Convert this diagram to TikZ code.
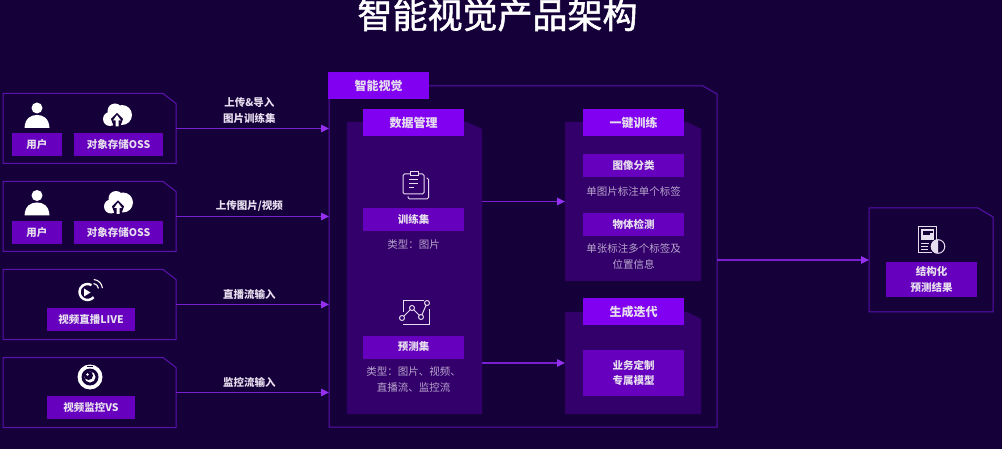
\documentclass[tikz,border=0pt]{standalone}
\usepackage{fontspec}
\setmainfont{Noto Sans CJK SC}
\newfontfamily\titlefont[FakeBold=1.5]{Noto Sans CJK SC}
\usetikzlibrary{positioning, arrows.meta}

\definecolor{bgcol}{HTML}{15003A}
\definecolor{framecol}{HTML}{5A12AE}
\definecolor{panelcol}{HTML}{33006B}
\definecolor{headcol}{HTML}{8200F2}
\definecolor{labelcol}{HTML}{6600BE}
\definecolor{flowcol}{HTML}{7A1FD0}
\definecolor{tipcol}{HTML}{9430F0}
\definecolor{textcol}{HTML}{E6DEEE}
\definecolor{notecol}{HTML}{B7A6CC}

\newcommand{\cutshape}[4]{\path[#1] (#2.north west) -- ([xshift=-#3pt]#2.north east)
  -- ([yshift=-#4pt]#2.north east) -- (#2.south east) -- (#2.south west) -- cycle;}

\tikzset{
  area/.style={inner sep=0pt, outer sep=0pt},
  framebox/.style={draw=framecol, line width=1pt},
  panelbox/.style={fill=panelcol},
  tag/.style={area, fill=labelcol, text=textcol, align=center, font=\fontsize{10.5}{15.5}\selectfont\bfseries},
  head/.style={area, fill=headcol, text=textcol, minimum width=101pt, minimum height=27pt, font=\fontsize{12}{14}\selectfont\bfseries},
  note/.style={inner sep=0pt, text=notecol, align=center, font=\fontsize{10.5}{15.5}\selectfont},
  flow/.style={-{Stealth[length=8pt, width=7.5pt, inset=0pt, color=tipcol]}, draw=flowcol, line width=1.2pt},
  flowtext/.style={inner sep=0pt, text=textcol, align=center, font=\fontsize{10.5}{16}\selectfont\bfseries},
  usericon/.pic={
    \fill[white] (0,-7) circle (5.5);
    \fill[white] (-12.5,13) .. controls (-12,3) and (-6,0) .. (0,0) .. controls (6,0) and (12,3) .. (12.5,13) -- cycle;
  },
  cloudicon/.pic={
    \fill[white] (5,0) circle (10) (-7,4) circle (7) (-2,-4) circle (7.5) (0,4) circle (6);
    \fill[bgcol] (0,-2) -- (-6,4) -- (-3,12) -- (3,12) -- (6,4) -- cycle;
    \fill[white] (0,0) -- (-4,5.5) -- (-1.5,5.5) -- (-1.5,11.5) -- (1.5,11.5) -- (1.5,5.5) -- (4,5.5) -- cycle;
  }
}

\begin{document}
\begin{tikzpicture}[x=1pt, y=-1pt, node distance=88pt]
  \useasboundingbox (0,0) rectangle (1002,449);
  \fill[bgcol] (0,0) rectangle (1002,449);

  % Titulo
  \node[text=white, font=\fontsize{35}{40}\selectfont\titlefont] (title) at (497.5,15) {智能视觉产品架构};

  % Cajas de entrada
  \node[area, minimum width=173pt, minimum height=70pt] (in1) at (89.5,128.5) {};
  \node[area, minimum width=173pt, minimum height=70pt, below of=in1] (in2) {};
  \node[area, minimum width=173pt, minimum height=70pt, below of=in2] (in3) {};
  \node[area, minimum width=173pt, minimum height=70pt, below of=in3] (in4) {};
  \cutshape{framebox}{in1}{13}{10}
  \cutshape{framebox}{in2}{13}{10}
  \cutshape{framebox}{in3}{13}{10}
  \cutshape{framebox}{in4}{13}{10}

  % Caja principal y paneles
  \node[area, minimum width=388pt, minimum height=341pt] (main) at (523,256.5) {};
  \node[area, minimum width=135pt, minimum height=292pt] (data) at (414.5,268) {};
  \node[area, minimum width=136pt, minimum height=159pt] (train) at (633,201.5) {};
  \node[area, minimum width=136pt, minimum height=102pt] (gen) at (633,363) {};
  \node[area, minimum width=124pt, minimum height=104pt] (result) at (931,260) {};
  \cutshape{framebox}{main}{14}{8}
  \cutshape{framebox}{result}{15}{9}
  \cutshape{panelbox}{data}{15}{7}
  \cutshape{panelbox}{train}{14}{7}
  \cutshape{panelbox}{gen}{14}{7}

  % Etiquetas de entrada
  \node[tag, minimum width=50pt, minimum height=23pt] (user1) at (37,144.5) {用户};
  \node[tag, minimum width=89pt, minimum height=23pt] (oss1) at (118.5,144.5) {对象存储OSS};
  \node[tag, minimum width=50pt, minimum height=23pt, below of=user1] (user2) {用户};
  \node[tag, minimum width=89pt, minimum height=23pt, below of=oss1] (oss2) {对象存储OSS};
  \node[tag, minimum width=88pt, minimum height=23pt] (live) at (91,319.5) {视频直播LIVE};
  \node[tag, minimum width=88pt, minimum height=23pt, below of=live] (vs) {视频监控VS};

  % Cabeceras
  \node[head] (mainhead) at (378.5,85.5) {智能视觉};
  \node[head] (datahead) at (413.5,122.5) {数据管理};
  \node[head] (trainhead) at (633.5,123) {一键训练};
  \node[head] (genhead) at (633.5,311.5) {生成迭代};

  % Contenido de los paneles
  \node[tag, minimum width=101pt, minimum height=23pt] (trainset) at (413.5,219.5) {训练集};
  \node[note] (trainnote) at (413.5,244.5) {类型：图片};
  \node[tag, minimum width=101pt, minimum height=23pt] (predset) at (413.5,347) {预测集};
  \node[note, below=8pt of predset] (prednote) {类型：图片、视频、\\直播流、监控流};
  \node[tag, minimum width=101pt, minimum height=23pt] (classify) at (633.5,166) {图像分类};
  \node[note] (classnote) at (633.5,191.5) {单图片标注单个标签};
  \node[tag, minimum width=101pt, minimum height=23pt] (detect) at (633.5,224.5) {物体检测};
  \node[note, below=7.5pt of detect] (detnote) {单张标注多个标签及\\位置信息};
  \node[tag, minimum width=101pt, minimum height=46pt] (model) at (633.5,373) {业务定制\\专属模型};
  \node[tag, minimum width=91pt, minimum height=35pt] (output) at (931.5,279.5) {结构化\\预测结果};

  % Conectores
  \draw[flow] (in1.east) -- node[flowtext, pos=0.48, above=4.5pt] (flow1) {上传\&导入\\图片训练集} (in1.east -| main.west);
  \draw[flow] (in2.east) -- node[flowtext, pos=0.48, above=4.5pt] (flow2) {上传图片/视频} (in2.east -| main.west);
  \draw[flow] (in3.east) -- node[flowtext, pos=0.48, above=4.5pt] (flow3) {直播流输入} (in3.east -| main.west);
  \draw[flow] (in4.east) -- node[flowtext, pos=0.48, above=4.5pt] (flow4) {监控流输入} (in4.east -| main.west);
  \draw[flow] (data.east |- train.west) -- (train.west);
  \draw[flow] (data.east |- gen.west) -- (gen.west);
  \draw[flow] (main.east |- result.west) -- (result.west);

  % Iconos
  \pic at (37,115) {usericon};
  \pic at (37,202.5) {usericon};
  \pic at (117,115) {cloudicon};
  \pic at (118,202.5) {cloudicon};

  % directo
  \draw[white, line width=2.4pt] (91.5,285.07) arc (-60:-320:8);
  \fill[white] (84,288.5) -- (90.5,292.5) -- (84,296.5) -- cycle;
  \draw[white, line width=1.1pt] (93.5,283.5) arc (-85:-5:5.5);
  \draw[white, line width=1.1pt] (93.8,279.5) arc (-85:-5:9.5);

  % vigilancia
  \fill[white] (90,377) circle (12.5);
  \fill[bgcol] (90,377) circle (8.5);
  \fill[white] (90,377) circle (5.5);
  \fill[bgcol] (88.5,375.5) circle (4.5);
  \fill[white] (87.5,374.5) circle (1.3);
  \fill[bgcol] (87,366.2) rectangle (93,367.4);

  % portapapeles
  \draw[textcol, line width=1pt, rounded corners=1.5pt] (403,174) rectangle (424,194);
  \draw[textcol, line width=1pt, rounded corners=1.5pt] (426.5,178) -- (428.5,178) -- (428.5,199) -- (408,199) -- (408,196.5);
  \draw[textcol, fill=panelcol, line width=1pt] (410,172) rectangle (418,176);
  \draw[textcol, line width=1pt] (409,180) -- (418,180) (409,184) -- (418,184) (409,188) -- (414,188);

  % grafica
  \draw[textcol, line width=1pt] (403,312) -- (403,301) -- (424,301) (429,309) -- (429,324) -- (403,324);
  \draw[textcol, line width=1pt] (402,318) -- (412,308) -- (421,317) -- (427,303);
  \draw[textcol, fill=panelcol, line width=1pt] (402,318) circle (2.5) (412,308) circle (2.5) (421,317) circle (2.5) (427,303) circle (2.5);

  % informe
  \draw[textcol, line width=1pt] (936,240) -- (936,227) -- (918,227) -- (918,253) -- (932,253);
  \fill[textcol] (921,229.5) rectangle (934,240.5);
  \fill[bgcol] (923,231) rectangle (930,235);
  \fill[bgcol] (930,231) rectangle (932.5,233);
  \draw[textcol, line width=1pt] (921,243.5) -- (929,243.5) (921,246.5) -- (928,246.5) (921,249.5) -- (928,249.5);
  \draw[textcol, fill=bgcol, line width=1pt] (938,246.5) circle (6.8);
  \fill[textcol] (938,239.7) arc (-90:-270:6.8) -- cycle;
\end{tikzpicture}
\end{document}
